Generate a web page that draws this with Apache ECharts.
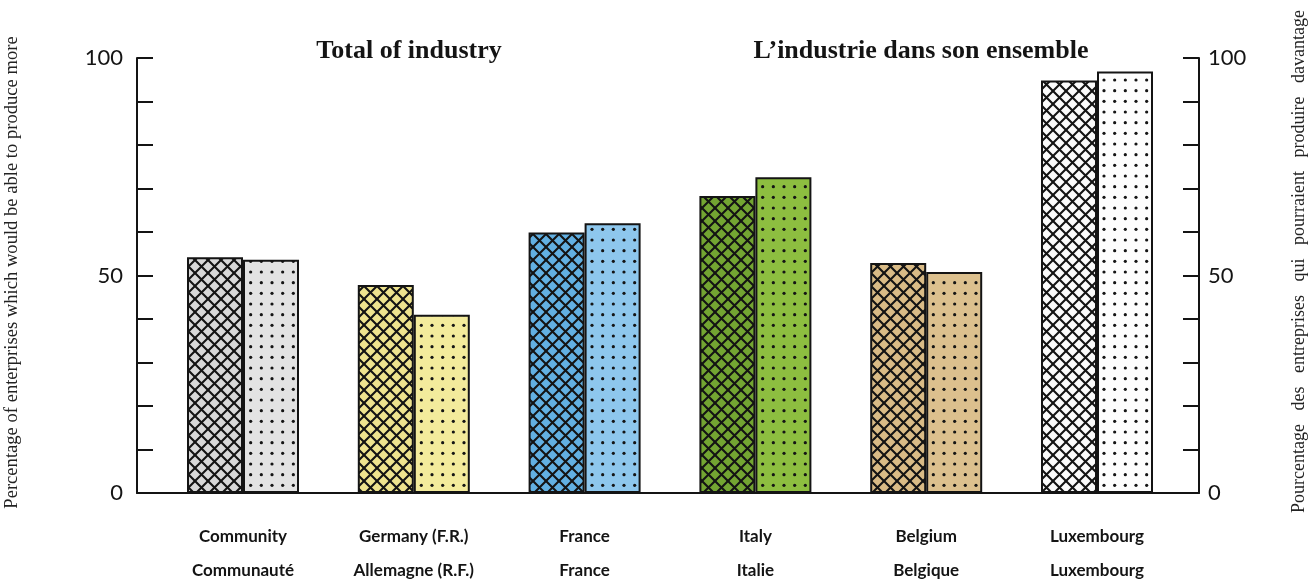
<!DOCTYPE html>
<html>
<head>
<meta charset="utf-8">
<title>Total of industry</title>
<script src="https://cdn.jsdelivr.net/npm/echarts@6/dist/echarts.min.js"></script>
<style>
  html, body { margin: 0; padding: 0; background: #ffffff; }
  #chart { width: 1312px; height: 579px; }
</style>
</head>
<body>
<div id="chart"></div>
<script>
// Categories (English / French) and values in %
const categoriesEn = ['Community', 'Germany (F.R.)', 'France', 'Italy', 'Belgium', 'Luxembourg'];
const categoriesFr = ['Communauté', 'Allemagne (R.F.)', 'France', 'Italie', 'Belgique', 'Luxembourg'];
const hatchedValues = [54.2, 47.8, 59.9, 68.3, 52.9, 94.8];
const dottedValues  = [53.6, 41.0, 62.0, 72.6, 50.8, 96.9];
const axisLabelValues = [0, 50, 100];

// Fill colours per country: [hatched bar, dotted bar]
const palette = [
  ['#d8d8d8', '#e3e3e3'],
  ['#eee38e', '#f3eb9c'],
  ['#62b0e2', '#8ec7ed'],
  ['#73a532', '#8dbe40'],
  ['#d9bb86', '#dcc08e'],
  ['#fbfbfb', '#fdfdfd']
];

const INK = '#141414';

function hatchPattern(bg) {
  const s = 13;
  const c = document.createElement('canvas');
  c.width = s; c.height = s;
  const g = c.getContext('2d');
  g.fillStyle = bg;
  g.fillRect(0, 0, s, s);
  g.strokeStyle = INK;
  g.lineWidth = 2.1;
  for (const off of [-s, 0, s]) {
    g.beginPath();
    g.moveTo(off - 1, -1); g.lineTo(off + s + 1, s + 1);
    g.moveTo(off + s + 1, -1); g.lineTo(off - 1, s + 1);
    g.stroke();
  }
  return { image: c, repeat: 'repeat' };
}

function dotPattern(bg) {
  const c = document.createElement('canvas');
  c.width = 32; c.height = 32;
  const g = c.getContext('2d');
  g.fillStyle = bg;
  g.fillRect(0, 0, 32, 32);
  g.fillStyle = INK;
  // three-by-three dots in a 32px tile gives a pitch of about 10.7px
  const pitch = 32 / 3;
  for (let r = 0; r < 3; r++) {
    for (let q = 0; q < 3; q++) {
      g.beginPath();
      g.arc(pitch / 2 + q * pitch, pitch / 2 + r * pitch, 1.6, 0, Math.PI * 2);
      g.fill();
    }
  }
  return { image: c, repeat: 'repeat' };
}

const hatchedData = hatchedValues.map((v, i) => ({
  value: v,
  itemStyle: { color: hatchPattern(palette[i][0]) }
}));
const dottedData = dottedValues.map((v, i) => ({
  value: v,
  itemStyle: { color: dotPattern(palette[i][1]) }
}));

const numberFont = 'Lato';
const serifFont = '"Liberation Serif", "DejaVu Serif", serif';

const valueAxisBase = {
  type: 'value',
  gridIndex: 1,
  min: 0,
  max: 100,
  interval: 10,
  splitLine: { show: false },
  axisLine: { show: true, lineStyle: { color: INK, width: 2 } },
  axisTick: { show: true, inside: true, length: 16, lineStyle: { color: INK, width: 2 } },
  nameLocation: 'middle',
  nameRotate: 90,
  nameTextStyle: { fontFamily: serifFont, fontSize: 18, color: '#222' }
};

const labelBase = {
  fontFamily: numberFont,
  fontSize: 22,
  color: INK,
  verticalAlign: 'middle',
  padding: [0, 0, 16, 0],
  formatter: v => (axisLabelValues.indexOf(v) >= 0 ? String(v) : '')
};

const titleStyle = { fontFamily: serifFont, fontWeight: 'bold', fontSize: 26, color: INK };

const chart = echarts.init(document.getElementById('chart'));
chart.setOption({
  backgroundColor: '#ffffff',
  animation: false,
  title: [
    { text: 'Total of industry', left: 404, top: 33, textAlign: 'center', textStyle: titleStyle },
    { text: 'L\u2019industrie dans son ensemble', left: 916, top: 33, textAlign: 'center', textStyle: titleStyle }
  ],
  grid: [
    { left: 157.6, right: 129.6, top: 58, bottom: 86, outerBoundsMode: 'none', containLabel: false },
    { left: 137, right: 113, top: 58, bottom: 86, outerBoundsMode: 'none', containLabel: false }
  ],
  xAxis: [
    {
      type: 'category',
      gridIndex: 0,
      data: categoriesEn,
      axisLine: { show: false },
      axisTick: { show: false },
      axisLabel: {
        interval: 0,
        margin: 27,
        fontFamily: numberFont,
        fontWeight: 'bold',
        fontSize: 17,
        color: INK,
        lineHeight: 34,
        verticalAlign: 'top',
        formatter: (v, i) => v + '\n' + categoriesFr[i]
      }
    },
    {
      type: 'value',
      gridIndex: 1,
      min: 0, max: 1,
      axisLine: { show: true, onZero: false, lineStyle: { color: INK, width: 2 } },
      axisTick: { show: false },
      axisLabel: { show: false },
      splitLine: { show: false }
    }
  ],
  yAxis: [
    {
      type: 'value',
      gridIndex: 0,
      min: 0, max: 100,
      show: false
    },
    Object.assign({}, valueAxisBase, {
      position: 'left',
      name: 'Percentage of enterprises which would be able to produce more',
      nameGap: 115,
      nameTextStyle: Object.assign({}, valueAxisBase.nameTextStyle, { fontSize: 18.6, padding: [0, 0, 0, 6] }),
      axisLabel: Object.assign({}, labelBase, { margin: 14 })
    }),
    Object.assign({}, valueAxisBase, {
      position: 'right',
      name: 'Pourcentage   des   entreprises   qui   pourraient   produire   davantage',
      nameGap: 91,
      nameTextStyle: Object.assign({}, valueAxisBase.nameTextStyle, { padding: [0, 0, 0, 28] }),
      axisLabel: Object.assign({}, labelBase, { margin: 9 })
    })
  ],
  series: [
    {
      type: 'bar',
      xAxisIndex: 0, yAxisIndex: 0,
      data: hatchedData,
      barWidth: 56,
      barGap: '0%',
      itemStyle: { borderColor: INK, borderWidth: 2 },
      emphasis: { disabled: true },
      silent: true
    },
    {
      type: 'bar',
      xAxisIndex: 0, yAxisIndex: 0,
      data: dottedData,
      barWidth: 56,
      barGap: '0%',
      itemStyle: { borderColor: INK, borderWidth: 2 },
      emphasis: { disabled: true },
      silent: true
    }
  ]
});
</script>
</body>
</html>
